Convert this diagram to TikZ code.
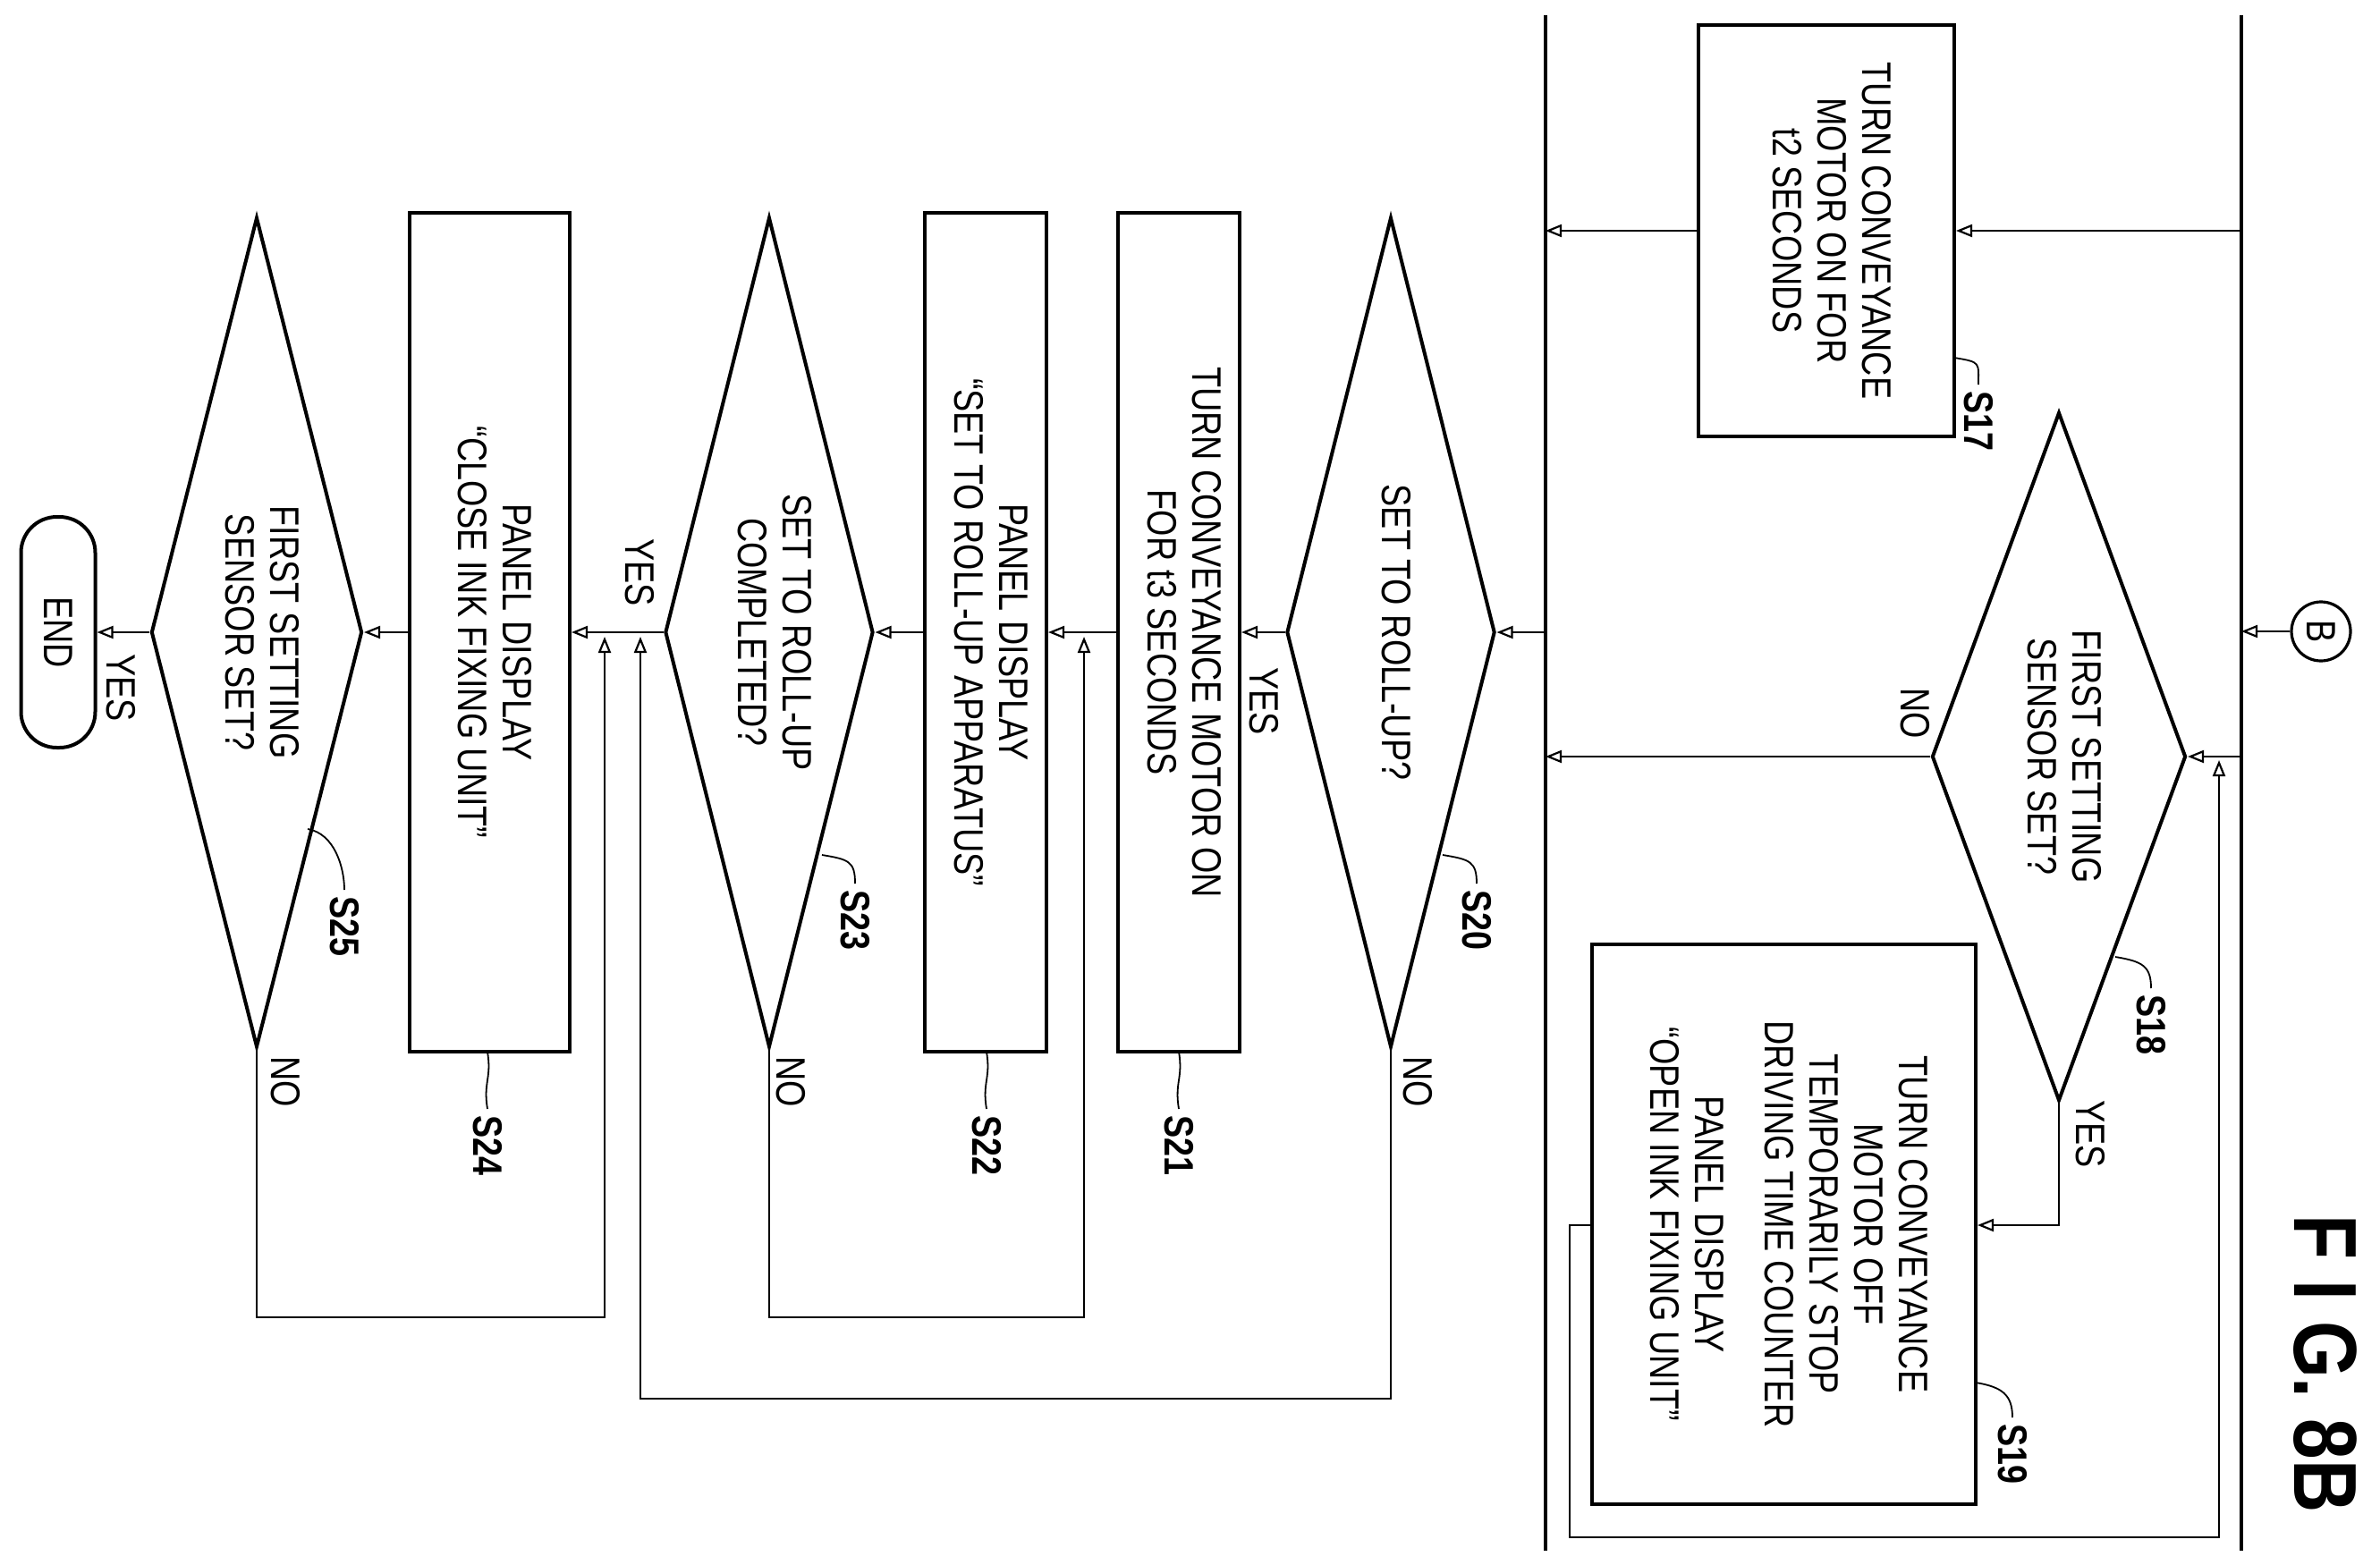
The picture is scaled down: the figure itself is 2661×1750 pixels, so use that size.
\documentclass[tikz,border=0pt]{standalone}
\usepackage{fontspec}
\setmainfont{Liberation Sans}[FakeStretch=0.82]
\usetikzlibrary{shapes.geometric,arrows.meta}
\newcommand{\rt}[1]{\rotatebox{-90}{\begin{tabular}{@{}c@{}}#1\end{tabular}}}
\begin{document}
\begin{tikzpicture}[x=0.5pt,y=-0.5pt,
  font=\fontsize{23}{25}\selectfont,
  shp/.style={draw,line width=2pt,inner sep=0pt},
  box/.style={shp,rectangle},
  dia/.style={shp,diamond},
  ar/.style={line width=1.1pt,-{Triangle[open,length=9pt,width=7pt]}},
  ln/.style={line width=1.1pt},
  bus/.style={line width=1.6pt},
  yn/.style={rotate=-90},
  stp/.style={rotate=-90,anchor=west,font=\fontsize{23}{25}\selectfont\bfseries},
  sq/.style={line width=0.9pt}]
\useasboundingbox (0,0) rectangle (2661,1750);
% bus lines
\coordinate (L1) at (1728,17); \coordinate (L2) at (1728,1734);
\coordinate (R1) at (2506,17); \coordinate (R2) at (2506,1734);
\draw[bus] (L1) -- (L2); \draw[bus] (R1) -- (R2);
% nodes
\node[draw,line width=1.6pt,circle,minimum size=33pt,inner sep=0pt] (B) at (2595,706) {\rotatebox{-90}{B}};
\node[box,minimum width=143pt,minimum height=229.5pt] (s17) at (2042,258) {\rt{TURN CONVEYANCE\\MOTOR ON FOR\\t2 SECONDS}};
\node[dia,minimum width=142pt,minimum height=385pt] (s18) at (2302,846) {};
\node (s18t) at (s18) {\rt{FIRST SETTING\\SENSOR SET?}};
\node[box,minimum width=214.5pt,minimum height=313pt] (s19) at (1994.5,1369) {\rt{TURN CONVEYANCE\\MOTOR OFF\\TEMPORARILY STOP\\DRIVING TIME COUNTER\\[14pt]PANEL DISPLAY\\``OPEN INK FIXING UNIT''}};
\node[dia,minimum width=116.5pt,minimum height=464pt] (s20) at (1555,707) {};
\node (s20t) at (s20) {\rt{SET TO ROLL-UP?}};
\node[box,minimum width=68pt,minimum height=469pt] (s21) at (1318,707) {\rt{TURN CONVEYANCE MOTOR ON\\FOR t3 SECONDS}};
\node[box,minimum width=68pt,minimum height=469pt] (s22) at (1102,707) {\rt{PANEL DISPLAY\\``SET TO ROLL-UP APPARATUS''}};
\node[dia,minimum width=116.5pt,minimum height=464pt] (s23) at (860,707) {};
\node (s23t) at (s23) {\rt{SET TO ROLL-UP\\COMPLETED?}};
\node[box,minimum width=89.5pt,minimum height=469pt] (s24) at (547.5,707) {\rt{PANEL DISPLAY\\``CLOSE INK FIXING UNIT''}};
\node[dia,minimum width=118pt,minimum height=464pt] (s25) at (287,707) {};
\node (s25t) at (s25) {\rt{FIRST SETTING\\SENSOR SET?}};
\node[shp,rectangle,rounded corners=20pt,minimum width=41.5pt,minimum height=129pt] (end) at (65,707) {\rotatebox{-90}{END}};
% helper coordinates
\coordinate (bB) at (2506,706);
\coordinate (b18) at (2506,846);
\coordinate (l18) at (1728,846);
\coordinate (y18) at (2302,1370);
\coordinate (p1) at (1755,1370);
\coordinate (p2) at (1755,1719);
\coordinate (p3) at (2481,1719);
\coordinate (p4) at (2481,850);
\coordinate (r17) at (2506,258);
\coordinate (l17) at (1728,258);
\coordinate (l20) at (1728,707);
\coordinate (n20a) at (1555,1564); \coordinate (n20b) at (716,1564); \coordinate (n20c) at (716,712);
\coordinate (n23a) at (860,1473); \coordinate (n23b) at (1212,1473); \coordinate (n23c) at (1212,712);
\coordinate (n25a) at (287,1473); \coordinate (n25b) at (676,1473); \coordinate (n25c) at (676,712);
% connectors
\draw[ar] (B) -- (bB);
\draw[ar] (b18) -- (s18.east);
\draw[ar] (s18.west) -- (l18);
\draw[ar] (s18.south) -- (y18) -- (y18 -| s19.east);
\draw[ar] (p1 -| s19.west) -- (p1) -- (p2) -- (p3) -- (p4);
\draw[ar] (r17) -- (s17.east);
\draw[ar] (s17.west) -- (l17);
\draw[ar] (l20) -- (s20.east);
\draw[ar] (s20.west) -- (s21.east);
\draw[ar] (s21.west) -- (s22.east);
\draw[ar] (s22.west) -- (s23.east);
\draw[ar] (s23.west) -- (s24.east);
\draw[ar] (s24.west) -- (s25.east);
\draw[ar] (s25.west) -- (end.east);
\draw[ar] (s20.south) -- (n20a) -- (n20b) -- (n20c);
\draw[ar] (s23.south) -- (n23a) -- (n23b) -- (n23c);
\draw[ar] (s25.south) -- (n25a) -- (n25b) -- (n25c);
% yes/no labels
\node[yn] (t1) at (2141,798) {NO};
\node[yn] (t2) at (2337,1268) {YES};
\node[yn] (t3) at (1413,784) {YES};
\node[yn] (t4) at (1585,1210) {NO};
\node[yn] (t5) at (715,640) {YES};
\node[yn] (t6) at (884,1210) {NO};
\node[yn] (t7) at (135,769) {YES};
\node[yn] (t8) at (319,1210) {NO};
% step labels
\coordinate (q17) at (2185,400); \node[stp] (k17) at (2212,430) {S17};
\coordinate (q18) at (2365,1070); \node[stp] (k18) at (2405,1105) {S18};
\coordinate (q19) at (2209,1546); \node[stp] (k19) at (2250,1585) {S19};
\coordinate (q20) at (1613,956); \node[stp] (k20) at (1651,988) {S20};
\coordinate (q21) at (1318,1176); \node[stp] (k21) at (1318,1240) {S21};
\coordinate (q22) at (1103,1176); \node[stp] (k22) at (1103,1240) {S22};
\coordinate (q23) at (919,956); \node[stp] (k23) at (956,988) {S23};
\coordinate (q24) at (545,1176); \node[stp] (k24) at (545,1240) {S24};
\coordinate (q25) at (344,927); \node[stp] (k25) at (385,995) {S25};
\foreach \a/\b in {q17/k17,q18/k18,q19/k19,q20/k20,q23/k23,q25/k25}
  \draw[sq] (\a) .. controls +(30,5) and +(0,-25) .. (\b.west);
\foreach \a/\b in {q21/k21,q22/k22,q24/k24}
  \draw[sq] (\a) .. controls +(5,30) and +(-5,-30) .. (\b.west);
% title
\node[rotate=-90,font=\fontsize{50}{52}\selectfont\bfseries] (title) at (2600,1525) {F I G. 8B};
\end{tikzpicture}
\end{document}
